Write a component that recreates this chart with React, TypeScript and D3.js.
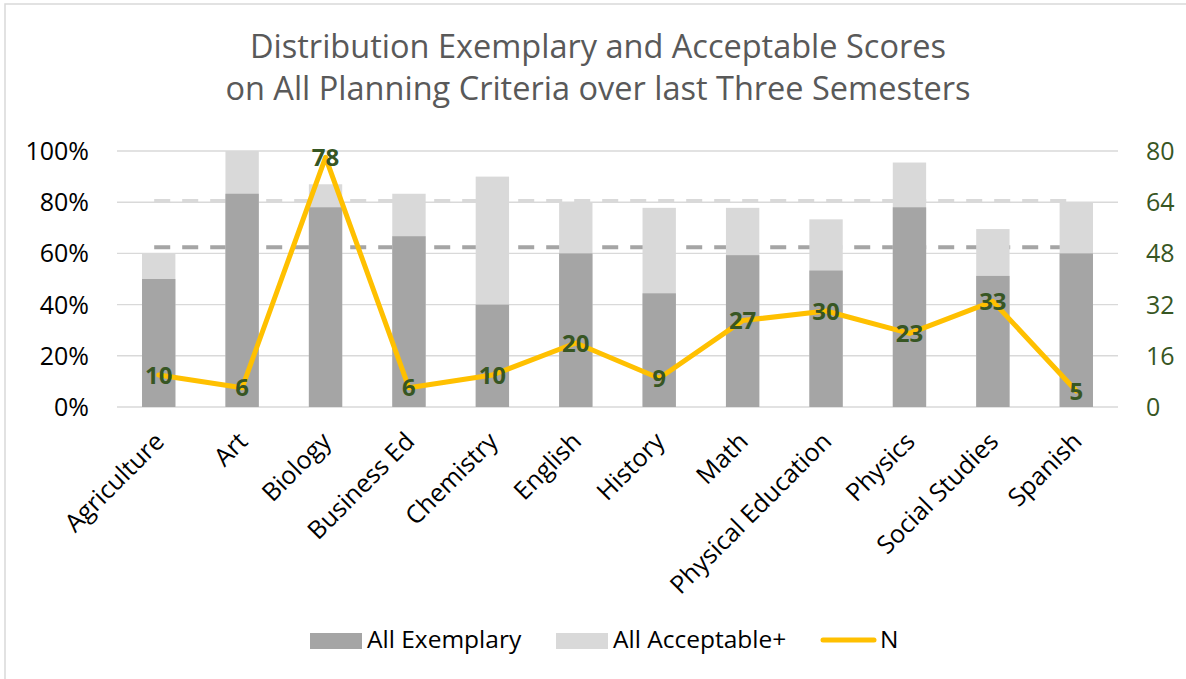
import React from "react";
import * as d3 from "d3";

const titleLines = [
  "Distribution Exemplary and Acceptable Scores",
  "on All Planning Criteria over last Three Semesters",
];
const categories = [
  "Agriculture", "Art", "Biology", "Business Ed", "Chemistry", "English",
  "History", "Math", "Physical Education", "Physics", "Social Studies", "Spanish",
];
const exemplary = [0.5, 0.833, 0.78, 0.667, 0.4, 0.6, 0.444, 0.593, 0.533, 0.78, 0.512, 0.6];
const acceptable = [0.6, 1.0, 0.87, 0.833, 0.9, 0.8, 0.778, 0.778, 0.733, 0.955, 0.695, 0.8];
const nValues = [10, 6, 78, 6, 10, 20, 9, 27, 30, 23, 33, 5];
const leftTicks = [0, 0.2, 0.4, 0.6, 0.8, 1.0];
const rightTicks = [0, 16, 32, 48, 64, 80];
const avgExemplary = 0.624;
const avgAcceptable = 0.806;
const legendItems = ["All Exemplary", "All Acceptable+", "N"];

const W = 1186;
const H = 679;
const FONT = "'Open Sans', sans-serif";
const C_EX = "#a5a5a5";
const C_AC = "#d9d9d9";
const C_N = "#ffc000";
const C_LBL = "#375623";

export default function App() {
  const left = 117, right = 1118, top = 151, bottom = 407;
  const x = d3.scaleBand<string>().domain(categories).range([left, right]).paddingInner(0.6).paddingOuter(0.3);
  const yL = d3.scaleLinear().domain([0, 1]).range([bottom, top]);
  const yR = d3.scaleLinear().domain([0, 80]).range([bottom, top]);
  const cx = (c: string) => (x(c) as number) + x.bandwidth() / 2;
  const line = d3.line<number>().x((_, i) => cx(categories[i])).y((d) => yR(d));
  const pct = d3.format(".0%");
  const dashX1 = cx(categories[0]) - 4.5;
  const dashX2 = cx(categories[categories.length - 1]);

  return (
    <svg width={W} height={H} style={{ position: "absolute", left: 0, top: 0, background: "#fff" }} fontFamily={FONT}>
      <rect x={5} y={4} width={1300} height={800} fill="#fff" stroke="#d9d9d9" strokeWidth={1.5} />
      {titleLines.map((t, i) => (
        <text key={t} x={598} y={58 + i * 42} textAnchor="middle" fontSize={32.5} fill="#595959">{t}</text>
      ))}
      {leftTicks.map((t) => (
        <line key={"g" + t} x1={left} x2={right} y1={yL(t)} y2={yL(t)} stroke="#d9d9d9" strokeWidth={1.4} />
      ))}
      {[avgAcceptable, avgExemplary].map((v, i) => (
        <line key={"d" + i} x1={dashX1} x2={dashX2} y1={yL(v)} y2={yL(v)}
          stroke={i === 0 ? C_AC : C_EX} strokeWidth={i === 0 ? 3.5 : 4} strokeDasharray="16,12" />
      ))}
      {categories.map((c, i) => (
        <g key={c}>
          <rect x={x(c)} y={yL(acceptable[i])} width={x.bandwidth()} height={yL(0) - yL(acceptable[i])} fill={C_AC} />
          <rect x={x(c)} y={yL(exemplary[i])} width={x.bandwidth()} height={yL(0) - yL(exemplary[i])} fill={C_EX} />
        </g>
      ))}
      <path d={line(nValues) || ""} fill="none" stroke={C_N} strokeWidth={5} strokeLinejoin="round" strokeLinecap="round" />
      {nValues.map((v, i) => (
        <text key={"n" + i} x={cx(categories[i])} y={yR(v)} dy="0.36em" textAnchor="middle"
          fontSize={24} fontWeight="bold" fill={C_LBL}>{v}</text>
      ))}
      {leftTicks.map((t) => (
        <text key={"l" + t} x={89} y={yL(t)} dy="0.36em" textAnchor="end" fontSize={25} fill="#000">{pct(t)}</text>
      ))}
      {rightTicks.map((t) => (
        <text key={"r" + t} x={1146} y={yR(t)} dy="0.36em" textAnchor="start" fontSize={25} fill={C_LBL}>{t}</text>
      ))}
      {categories.map((c) => (
        <text key={"c" + c} transform={`translate(${cx(c) + 7},${443}) rotate(-45)`} textAnchor="end" fontSize={25} fill="#000">{c}</text>
      ))}
      <g>
        <rect x={310} y={633} width={52} height={16} fill={C_EX} />
        <text x={367} y={648} fontSize={24.5} fill="#000">{legendItems[0]}</text>
        <rect x={556} y={633} width={52} height={16} fill={C_AC} />
        <text x={613} y={648} fontSize={24.5} fill="#000">{legendItems[1]}</text>
        <line x1={823} x2={874} y1={640} y2={640} stroke={C_N} strokeWidth={5} strokeLinecap="round" />
        <text x={880} y={648} fontSize={24.5} fill="#000">{legendItems[2]}</text>
      </g>
    </svg>
  );
}
